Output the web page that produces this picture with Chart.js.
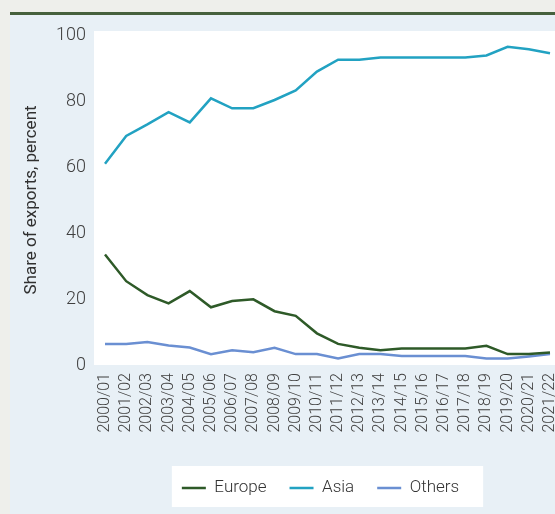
<!DOCTYPE html>
<html>
<head>
<meta charset="utf-8">
<script src="https://cdn.jsdelivr.net/npm/chart.js@4"></script>
<style>
  html, body { margin: 0; padding: 0; background: #eeefeb; }
  #panel {
    position: absolute; left: 10px; top: 12px; width: 545px; height: 502px;
    border-top: 3px solid #46613d; background: #e8f0f6;
  }
  #wrap { position: absolute; left: 0; top: 0; width: 555px; height: 514px; }
</style>
</head>
<body>
<div id="panel"></div>
<div id="wrap"><canvas id="exportsChart"></canvas></div>
<script>
const years = ['2000/01', '2001/02', '2002/03', '2003/04', '2004/05', '2005/06', '2006/07', '2007/08',
    '2008/09', '2009/10', '2010/11', '2011/12', '2012/13', '2013/14', '2014/15', '2015/16',
    '2016/17', '2017/18', '2018/19', '2019/20', '2020/21', '2021/22'];

const europe = [33.5, 25.4, 21.2, 18.7, 22.4, 17.5, 19.4, 19.9, 16.3, 14.9, 9.6, 6.4,
    5.2, 4.5, 5.0, 5.0, 5.0, 5.0, 5.8, 3.3, 3.3, 3.8];
const asia = [61, 69.4, 72.9, 76.6, 73.5, 80.8, 77.8, 77.8, 80.3, 83.2, 88.9, 92.5,
    92.5, 93.2, 93.2, 93.2, 93.2, 93.2, 93.8, 96.4, 95.7, 94.5];
const others = [6.4, 6.4, 7.0, 5.9, 5.3, 3.3, 4.5, 3.9, 5.2, 3.3, 3.3, 2.0,
    3.3, 3.3, 2.7, 2.7, 2.7, 2.7, 2.0, 2.0, 2.6, 3.3];

const yTicks = [0, 20, 40, 60, 80, 100];

const fontFamily = "Roboto, 'Liberation Sans', Arial, sans-serif";
const textColor = '#404040';

// white plot area and legend box, drawn before everything else
const backgrounds = {
    id: 'backgrounds',
    afterLayout(chart) {
        // legend sits a little left of the plot centre
        chart.legend.left -= 7;
        chart.legend.right -= 7;
    },
    beforeDraw(chart) {
        const { ctx, chartArea } = chart;
        ctx.save();
        ctx.fillStyle = '#ffffff';
        ctx.fillRect(chartArea.left - 11, chartArea.top - 4, chart.width - chartArea.left + 11, chartArea.bottom - chartArea.top + 4);
        const boxes = chart.legend.legendHitBoxes;
        if (boxes && boxes.length) {
            const first = boxes[0];
            const last = boxes[boxes.length - 1];
            const cy = first.top + first.height / 2;
            ctx.fillRect(first.left - 10, cy - 22, last.left + last.width + 24 - (first.left - 10), 41);
        }
        ctx.restore();
    }
};

const ctx = document.getElementById('exportsChart').getContext('2d');
new Chart(ctx, {
    type: 'line',
    data: {
        labels: years,
        datasets: [
            {
                label: 'Europe',
                data: europe,
                borderColor: '#2e5a28',
                backgroundColor: '#2e5a28',
                borderWidth: 2.5,
                pointRadius: 0,
                tension: 0
            },
            {
                label: 'Asia',
                data: asia,
                borderColor: '#22a2c2',
                backgroundColor: '#22a2c2',
                borderWidth: 2.5,
                pointRadius: 0,
                tension: 0
            },
            {
                label: 'Others',
                data: others,
                borderColor: '#6a8fd2',
                backgroundColor: '#6a8fd2',
                borderWidth: 2.5,
                pointRadius: 0,
                tension: 0
            }
        ]
    },
    options: {
        responsive: true,
        maintainAspectRatio: false,
        animation: false,
        layout: {
            padding: { top: 35, right: 5, left: 0, bottom: 7.5 }
        },
        scales: {
            x: {
                grid: { display: false, drawTicks: false },
                border: { display: false },
                ticks: {
                    autoSkip: false,
                    maxRotation: 90,
                    minRotation: 90,
                    padding: 8,
                    color: textColor,
                    font: { family: fontFamily, size: 16, weight: 300 }
                },
                afterFit: (scale) => {
                    scale.height = 91.5;
                    scale.paddingLeft = 0;
                    scale.paddingRight = 0;
                }
            },
            y: {
                min: 0,
                max: 100,
                grid: { display: false, drawTicks: false },
                border: { display: false },
                afterBuildTicks: (scale) => { scale.ticks = yTicks.map(v => ({ value: v })); },
                ticks: {
                    padding: 19,
                    color: textColor,
                    font: { family: fontFamily, size: 18, weight: 300 }
                },
                title: {
                    display: true,
                    text: 'Share of exports, percent',
                    color: '#303030',
                    padding: { top: 22, bottom: 0 },
                    font: { family: fontFamily, size: 17, weight: 400 }
                },
                afterFit: (scale) => {
                    scale.width = 105;
                    scale.paddingTop = 0;
                    scale.paddingBottom = 0;
                }
            }
        },
        plugins: {
            legend: {
                position: 'bottom',
                fullSize: false,
                labels: {
                    usePointStyle: true,
                    pointStyle: 'line',
                    pointStyleWidth: 24,
                    padding: 23,
                    color: '#333333',
                    font: { family: fontFamily, size: 17, weight: 300 }
                }
            },
            tooltip: { enabled: false }
        }
    },
    plugins: [backgrounds]
});
</script>
</body>
</html>
